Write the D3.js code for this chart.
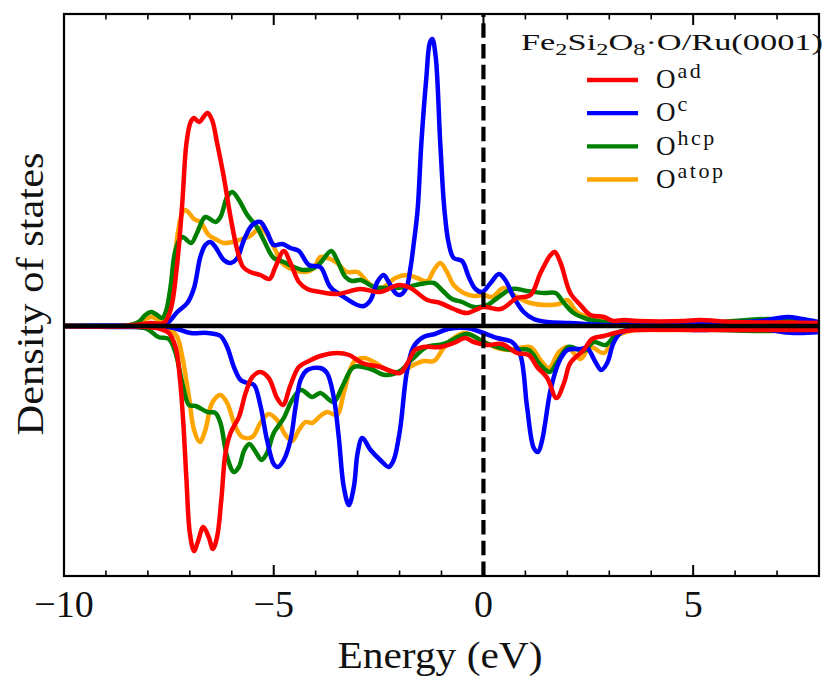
<!DOCTYPE html>
<html>
<head>
<meta charset="utf-8">
<script src="https://cdnjs.cloudflare.com/ajax/libs/d3/7.8.5/d3.min.js"></script>
<style>
body { margin: 0; background: #fff; }
text { font-family: "Liberation Serif", serif; fill: #111; }
</style>
</head>
<body>
<div id="chart"></div>
<script>
// [energy in eV, density of states in arbitrary units]
const oAdUp = [[-10,0],[-8.5,0.3],[-7.94,3],[-7.62,3],[-7.46,16],[-7.3,63],[-7.18,123],[-7.08,183],[-6.98,204],[-6.9,208],[-6.78,204],[-6.58,213],[-6.47,206],[-6.35,183],[-6.19,149],[-6.03,109],[-5.87,76],[-5.73,59],[-5.56,54],[-5.32,51],[-5.1,47],[-4.96,59],[-4.76,75],[-4.6,63],[-4.4,44],[-4.2,37],[-3.89,34],[-3.49,32],[-2.93,37],[-2.46,34],[-2.02,41],[-1.74,38],[-1.34,26],[-1.03,23],[-0.71,17],[-0.39,13],[0,19],[0.41,17],[0.8,28],[1.12,31],[1.36,53],[1.6,71],[1.7,74],[1.84,63],[2.07,33],[2.31,21],[2.55,11],[2.87,9],[3.1,5],[3.35,6],[3.67,5],[4.78,5],[5.14,6],[5.98,4],[7.24,3.5],[8,3]];
const oCUp = [[-10,0],[-7.8,0],[-7.54,3],[-7.3,14],[-7.06,23],[-6.9,38],[-6.75,69],[-6.63,81],[-6.51,84],[-6.39,79],[-6.19,66],[-6.03,63],[-5.87,68],[-5.71,86],[-5.51,101],[-5.32,104],[-5.16,94],[-5,81],[-4.8,82],[-4.6,78],[-4.4,75],[-4.16,61],[-3.89,59],[-3.65,39],[-3.33,29],[-3.01,21],[-2.85,20],[-2.69,26],[-2.53,44],[-2.38,51],[-2.26,44],[-2.1,33],[-1.99,31],[-1.84,38],[-1.74,58],[-1.66,83],[-1.57,116],[-1.48,183],[-1.36,249],[-1.28,283],[-1.22,287],[-1.14,270],[-1.03,183],[-0.93,116],[-0.83,83],[-0.71,68],[-0.51,65],[-0.35,49],[-0.19,37],[-0.03,34],[0.17,43],[0.37,52],[0.52,46],[0.72,29],[0.96,14],[1.2,7],[1.52,4],[2.07,3],[2.87,1],[4.5,2],[5.2,3],[6.6,5],[7.24,9],[7.6,7],[8,4]];
const oHcpUp = [[-10,0],[-8.49,0.3],[-8.22,4],[-8.06,11],[-7.92,14],[-7.78,11],[-7.66,8],[-7.56,16],[-7.46,39],[-7.34,76],[-7.18,89],[-6.97,83],[-6.83,93],[-6.63,109],[-6.39,104],[-6.27,109],[-6.11,129],[-5.99,134],[-5.83,126],[-5.63,111],[-5.4,99],[-5.24,86],[-5,68],[-4.76,64],[-4.52,59],[-4.28,56],[-4.04,58],[-3.89,63],[-3.63,75],[-3.49,66],[-3.29,49],[-3.13,45],[-2.93,46],[-2.61,39],[-2.3,38],[-1.82,39],[-1.5,42],[-1.18,43],[-0.99,36],[-0.75,27],[-0.51,24],[-0.23,19],[0.09,21],[0.33,28],[0.68,37],[1.04,35],[1.44,33],[1.72,33],[1.92,23],[2.15,13],[2.47,7],[2.87,4],[3.27,2],[5,2],[6.8,7],[7.4,5],[8,3]];
const oAtopUp = [[-10,0],[-8.5,0.5],[-8.22,3],[-7.92,9],[-7.73,6],[-7.56,8],[-7.46,29],[-7.3,89],[-7.18,113],[-7.1,116],[-6.9,107],[-6.75,104],[-6.55,91],[-6.35,86],[-6.19,83],[-5.99,84],[-5.75,87],[-5.56,90],[-5.32,98],[-5.12,89],[-4.96,76],[-4.8,63],[-4.52,56],[-4.24,54],[-4.04,58],[-3.89,69],[-3.65,67],[-3.49,63],[-3.25,54],[-3,54],[-2.77,44],[-2.57,38],[-2.38,39],[-2.1,48],[-1.82,51],[-1.58,48],[-1.34,45],[-1.18,56],[-1.03,63],[-0.87,54],[-0.71,41],[-0.47,33],[-0.23,30],[0.01,31],[0.21,29],[0.48,38],[0.8,29],[1.12,23],[1.52,21],[1.8,22],[2,26],[2.23,14],[2.55,8],[2.95,4],[3.27,3],[5,2],[8,2]];
const oAdDown = [[-10,0],[-8.5,-0.5],[-8.02,-1],[-7.7,-3],[-7.5,-7],[-7.34,-21],[-7.24,-51],[-7.16,-94],[-7.08,-154],[-7,-207],[-6.9,-225],[-6.81,-216],[-6.68,-201],[-6.55,-211],[-6.45,-223],[-6.35,-211],[-6.25,-174],[-6.15,-127],[-6.03,-107],[-5.83,-91],[-5.67,-67],[-5.51,-51],[-5.32,-46],[-5.12,-52],[-4.92,-72],[-4.78,-79],[-4.6,-59],[-4.4,-41],[-4.16,-35],[-3.89,-30],[-3.49,-27],[-3.2,-29],[-2.89,-37],[-2.46,-41],[-1.99,-47],[-1.81,-37],[-1.63,-24],[-1.43,-21],[-1.03,-21],[-0.71,-17],[-0.43,-12],[-0.23,-16],[0.09,-19],[0.44,-18],[0.8,-27],[1.08,-29],[1.28,-41],[1.52,-52],[1.74,-72],[1.92,-57],[2.07,-37],[2.39,-24],[2.59,-13],[2.87,-10],[3.23,-6],[3.6,-4],[5.2,-4],[7.2,-4],[8,-4]];
const oCDown = [[-10,0],[-8,0],[-7.38,-2],[-6.98,-7],[-6.58,-7],[-6.27,-10],[-6.11,-21],[-5.95,-41],[-5.79,-54],[-5.63,-57],[-5.47,-59],[-5.32,-79],[-5.16,-114],[-5,-138],[-4.9,-141],[-4.76,-134],[-4.6,-114],[-4.48,-81],[-4.36,-54],[-4.2,-44],[-3.89,-42],[-3.73,-47],[-3.57,-71],[-3.45,-111],[-3.33,-161],[-3.21,-179],[-3.09,-161],[-3,-127],[-2.89,-112],[-2.69,-124],[-2.46,-134],[-2.26,-141],[-2.14,-134],[-1.99,-104],[-1.83,-47],[-1.67,-21],[-1.43,-11],[-1.16,-8],[-0.84,-3],[-0.39,-2],[-0.07,-6],[0.33,-12],[0.68,-16],[0.88,-29],[1.04,-81],[1.2,-122],[1.3,-126],[1.4,-114],[1.6,-64],[1.8,-36],[2,-24],[2.31,-23],[2.47,-22],[2.67,-36],[2.81,-44],[2.95,-37],[3.1,-17],[3.27,-7],[3.6,-3],[5.2,-4],[6.4,-2],[7.4,-7],[8,-6]];
const oHcpDown = [[-10,0],[-8.5,-0.5],[-8.02,-3],[-7.75,-11],[-7.5,-13],[-7.34,-27],[-7.18,-57],[-7.02,-79],[-6.86,-80],[-6.58,-86],[-6.39,-87],[-6.27,-97],[-6.11,-131],[-5.95,-146],[-5.83,-141],[-5.7,-124],[-5.58,-118],[-5.43,-126],[-5.29,-134],[-5.16,-127],[-5,-107],[-4.76,-92],[-4.56,-74],[-4.35,-64],[-4.08,-71],[-3.89,-67],[-3.57,-76],[-3.37,-61],[-3.09,-41],[-2.69,-43],[-2.34,-49],[-1.99,-45],[-1.67,-32],[-1.35,-21],[-0.95,-18],[-0.39,-8],[0,-16],[0.41,-22],[0.72,-24],[1.08,-24],[1.36,-39],[1.58,-46],[1.76,-36],[2.03,-21],[2.39,-25],[2.63,-16],[2.91,-19],[3.19,-7],[3.6,-3],[6.8,-5],[8,-3]];
const oAtopDown = [[-10,0],[-8.5,-0.3],[-7.46,-4],[-7.3,-11],[-7.18,-31],[-7.02,-71],[-6.9,-104],[-6.76,-116],[-6.63,-104],[-6.47,-77],[-6.27,-69],[-6.11,-77],[-5.91,-101],[-5.75,-111],[-5.51,-111],[-5.32,-97],[-5.12,-88],[-4.92,-94],[-4.72,-109],[-4.56,-115],[-4.4,-104],[-4.24,-96],[-4.08,-97],[-3.89,-90],[-3.73,-86],[-3.49,-89],[-3.33,-67],[-3.09,-36],[-2.85,-32],[-2.57,-37],[-2.3,-44],[-1.99,-46],[-1.67,-39],[-1.43,-35],[-1.18,-35],[-0.95,-22],[-0.71,-12],[-0.43,-7],[-0.07,-14],[0.33,-22],[0.64,-24],[1.12,-21],[1.36,-34],[1.56,-42],[1.8,-26],[2,-21],[2.31,-33],[2.55,-21],[2.87,-27],[3.15,-11],[3.5,-5],[4.5,-4],[8,-3]];

const majorTicks = [-10, -5, 0, 5];
const minorTicks = [-9, -8, -7, -6, -4, -3, -2, -1, 1, 2, 3, 4, 6, 7];
const legendNames = ["ad", "c", "hcp", "atop"];
const legendColors = ["red", "blue", "green", "orange"];

const margin = {top: 14, right: 13, bottom: 116, left: 64};
const width = 832, height = 692;

const svg = d3.select("#chart").append("svg")
    .attr("width", width).attr("height", height)
    .style("display", "block");

const x = d3.scaleLinear().domain([-10, 8]).range([margin.left, width - margin.right]);
const y = d3.scaleLinear().domain([-250, 312]).range([height - margin.bottom, margin.top]);

svg.append("clipPath").attr("id", "plot").append("rect")
    .attr("x", margin.left).attr("y", margin.top)
    .attr("width", width - margin.left - margin.right)
    .attr("height", height - margin.top - margin.bottom);

const line = d3.line()
    .x(d => x(d[0]))
    .y(d => y(d[1]))
    .curve(d3.curveCatmullRom.alpha(0.5));

const curves = [
    [oAtopUp, "orange"], [oAtopDown, "orange"],
    [oHcpUp, "green"], [oHcpDown, "green"],
    [oCUp, "blue"], [oCDown, "blue"],
    [oAdUp, "red"], [oAdDown, "red"]
];

svg.append("g").attr("clip-path", "url(#plot)")
    .selectAll("path").data(curves).enter().append("path")
    .attr("d", d => line(d[0]))
    .attr("fill", "none")
    .attr("stroke", d => d[1])
    .attr("stroke-width", 4.5);

// zero line and Fermi level
svg.append("line")
    .attr("x1", x(-10)).attr("x2", x(8)).attr("y1", y(0)).attr("y2", y(0))
    .attr("stroke", "#000").attr("stroke-width", 4.4);
svg.append("line")
    .attr("x1", x(0)).attr("x2", x(0)).attr("y1", y(-250)).attr("y2", y(312))
    .attr("stroke", "#000").attr("stroke-width", 4.2)
    .attr("stroke-dasharray", "14.5 6.2");

// plot frame
svg.append("rect")
    .attr("x", margin.left).attr("y", margin.top)
    .attr("width", width - margin.left - margin.right)
    .attr("height", height - margin.top - margin.bottom)
    .attr("fill", "none").attr("stroke", "#000").attr("stroke-width", 2.2);

// ticks on bottom and top, pointing inward
const bottom = height - margin.bottom;
const bottomMajor = svg.append("g")
    .attr("transform", `translate(0,${bottom})`)
    .call(d3.axisBottom(x).offset(0).tickValues(majorTicks).tickSize(-11).tickSizeOuter(0));
const bottomMinor = svg.append("g")
    .attr("transform", `translate(0,${bottom})`)
    .call(d3.axisBottom(x).offset(0).tickValues(minorTicks).tickSize(-5.5).tickSizeOuter(0).tickFormat(""));
const topMajor = svg.append("g")
    .attr("transform", `translate(0,${margin.top})`)
    .call(d3.axisTop(x).offset(0).tickValues(majorTicks).tickSize(-11).tickSizeOuter(0).tickFormat(""));
const topMinor = svg.append("g")
    .attr("transform", `translate(0,${margin.top})`)
    .call(d3.axisTop(x).offset(0).tickValues(minorTicks).tickSize(-5.5).tickSizeOuter(0).tickFormat(""));
[bottomMajor, topMajor].forEach(g => g.selectAll(".tick line").attr("stroke-width", 2));
[bottomMinor, topMinor].forEach(g => g.selectAll(".tick line").attr("stroke-width", 1.6));

bottomMajor.selectAll("text")
    .attr("y", 41).attr("dy", 0)
    .style("font-family", '"Liberation Serif", serif')
    .style("font-size", "38px")
    .style("fill", "#111");

svg.append("text")
    .attr("x", 440).attr("y", 668)
    .attr("text-anchor", "middle")
    .attr("textLength", 205).attr("lengthAdjust", "spacingAndGlyphs")
    .style("font-size", "38px")
    .text("Energy (eV)");

svg.append("text")
    .attr("transform", "translate(43,294) rotate(-90)")
    .attr("text-anchor", "middle")
    .attr("textLength", 283).attr("lengthAdjust", "spacingAndGlyphs")
    .style("font-size", "38px")
    .text("Density of states");

// legend
const title = svg.append("text")
    .attr("x", 521).attr("y", 50)
    .attr("textLength", 302).attr("lengthAdjust", "spacingAndGlyphs")
    .style("font-size", "24px");
[["Fe", 0], ["2", 5], ["Si", -5], ["2", 5], ["O", -5], ["8", 5], ["\u00b7O/Ru(0001)", -5]].forEach(p => {
    title.append("tspan")
        .attr("dy", p[1])
        .style("font-size", p[1] > 0 ? "17px" : "24px")
        .text(p[0]);
});

const legendY = d3.scalePoint().domain(legendNames).range([80, 179.5]);
const legend = svg.append("g").selectAll("g").data(legendNames).enter().append("g");
legend.append("line")
    .attr("x1", 587).attr("x2", 638)
    .attr("y1", d => legendY(d)).attr("y2", d => legendY(d))
    .attr("stroke", (d, i) => legendColors[i])
    .attr("stroke-width", 4.4);
const legendText = legend.append("text")
    .attr("x", 656).attr("y", d => legendY(d) + 8.3)
    .style("font-size", "27px");
legendText.append("tspan").text("O");
legendText.append("tspan")
    .attr("dy", -10).attr("dx", 2)
    .style("font-size", "22px")
    .style("letter-spacing", "2.5px")
    .text(d => d);
</script>
</body>
</html>
